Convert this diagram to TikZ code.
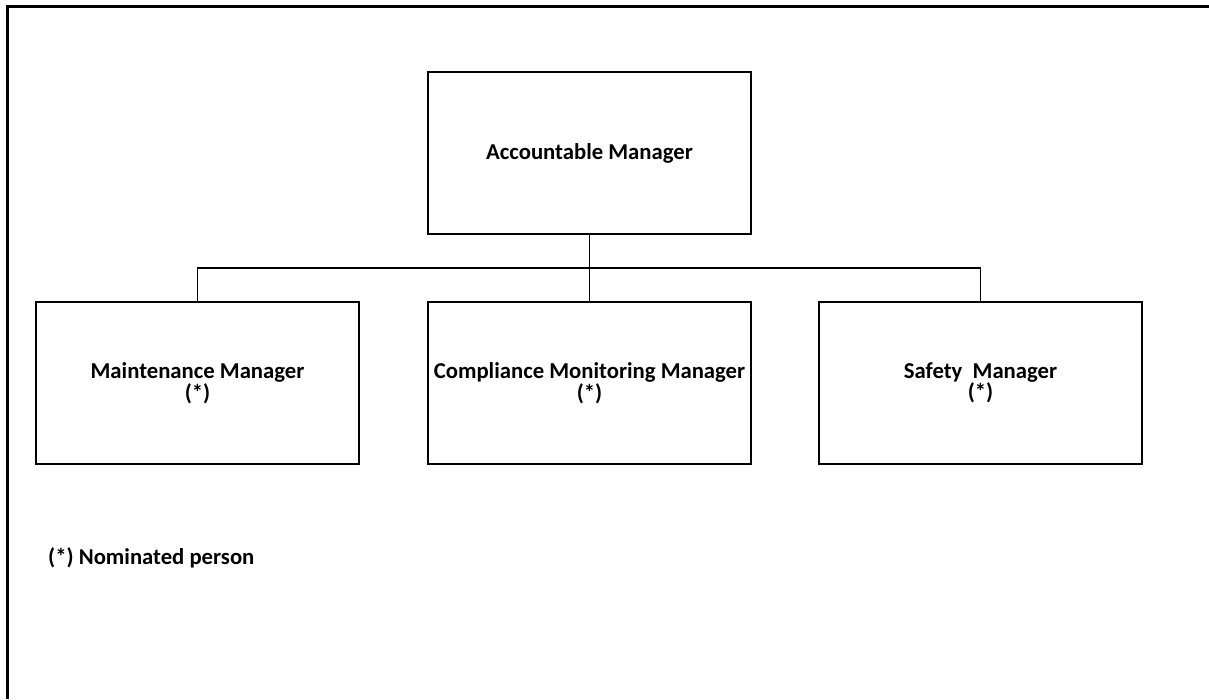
\documentclass[tikz,border=0pt]{standalone}
\usepackage{fontspec}
\setmainfont{Carlito}
\begin{document}
\begin{tikzpicture}[x=1pt,y=-1pt,
  lbl/.style={font=\bfseries\fontsize{22.7}{21.5}\selectfont},
  box/.style={lbl,draw=black,line width=1.5pt,minimum width=323pt,minimum height=162pt,inner sep=0pt,align=center},
  conn/.style={draw=black,line width=1.4pt},
  frameline/.style={draw=black,line width=2.2pt}]
\useasboundingbox (0,0) rectangle (1209,699);
\fill[white] (0,0) rectangle (1209,699);
\coordinate (tl) at (7.5,6.5);
\coordinate (tr) at (1209,6.5);
\coordinate (bl) at (7.5,699);
\draw[frameline] (bl) -- (tl) -- (tr);
\node[box] (am) at (589.5,153) {\raisebox{-2.5pt}{Accountable Manager}};
\node[box] (mm) at (197.5,383) {Maintenance Manager\\(*)};
\node[box] (cm) at (589.5,383) {Compliance Monitoring Manager\\(*)};
\node[box] (sm) at (980.5,383) {Safety\ \ Manager\\(*)};
\coordinate (bus) at (589.5,268);
\draw[conn] (am.south) -- (bus);
\draw[conn] (mm.north) |- (bus) -| (sm.north);
\draw[conn] (bus) -- (cm.north);
\node[lbl,anchor=west,inner sep=0pt] (note) at (48,558) {(*) Nominated person};
\end{tikzpicture}
\end{document}
